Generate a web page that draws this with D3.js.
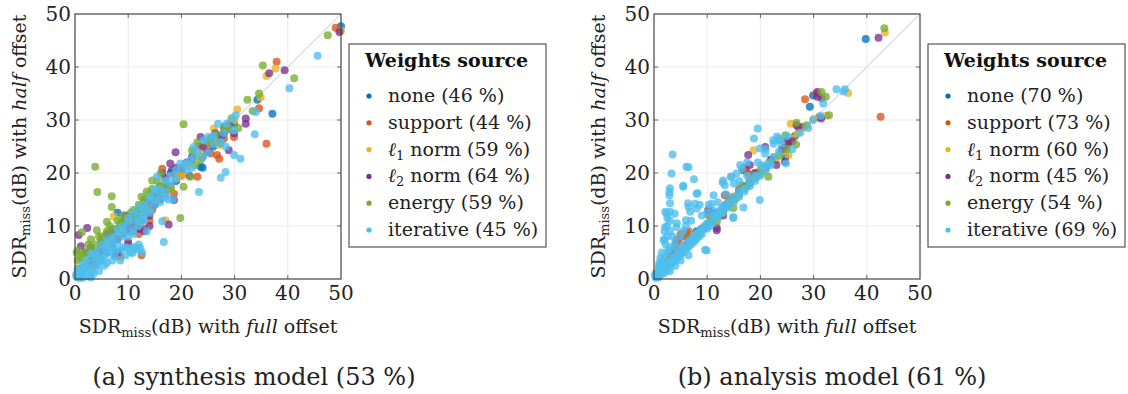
<!DOCTYPE html>
<html>
<head>
<meta charset="utf-8">
<script src="https://cdn.jsdelivr.net/npm/d3@7"></script>
<style>
  body { margin: 0; background: #fff; }
</style>
</head>
<body>
<svg width="1128" height="394"></svg>
<script>
// series names and colours
var seriesNames = ['none', 'support', 'ℓ1 norm', 'ℓ2 norm', 'energy', 'iterative'];
var seriesColors = ['#0072BD', '#D95319', '#EDB120', '#7E2F8E', '#77AC30', '#4DBEEE'];
var ticks = [0, 10, 20, 30, 40, 50];

// (a) synthesis model: [full offset, half offset] in dB
var synNone = [[50,47.7],[34.3,33.8],[37.1,31.2],[29.9,29.3],[23.6,21.2],[18.2,20.5],[8,12.5],[27,26.5],[24,21],[15.5,16],[13,13.5],[10.5,11],[6,5],[4.5,4.8],[3,3.2],[2,2.5],[1.2,1],[0.5,0.6],[7.5,4.4],[12,12.3],[16,15],[20,20.5],[9,8.7],[11,10],[7,7.5],[9.5,10.5],[14,14.5],[17,17.5],[19,18.5],[21,22],[26,25],[28,28.7],[5.5,6],[12.5,11]];
var synSupport = [[49,47.4],[37.9,41],[34.6,32.2],[36,25.5],[29.9,26.8],[26.7,23.4],[27.1,22.7],[23.3,25],[25.5,23.7],[23,19.3],[16.4,20.8],[18.6,16.1],[8.5,4.2],[8,5],[5,6],[3,4],[2,2.5],[1,1.5],[12,8.5],[14,13.5],[10.5,10],[6.5,7.5],[15,14.5],[19,19.5],[22,22.5],[28,26.5],[4,3.5],[13,12.5],[17.5,17],[12.5,4.5],[6,5.5],[7,6.5],[9,8.5],[10,9.5],[11,10.5],[13,14],[14.5,13],[16,15.5],[17,16],[18,17.5],[20,19.5],[21,21.5],[24,23],[25,25.5],[26,25.8],[3.5,2.5],[13,9.5],[14,11],[10,6.5],[11,9]];
var synL1 = [[50,46.8],[37.7,39.7],[36,38.3],[34.9,34.3],[30.5,32],[29.4,30.4],[26.1,28.4],[27.1,25.3],[22.2,23.7],[17,11.1],[7.3,11.8],[14.5,15.5],[12,13],[9,9.5],[6,6.8],[4,4.5],[2.5,3],[1,1.2],[16,16.5],[19,20.5],[11,12],[24,24.5],[5,7.5],[20,19.5],[5,5.5],[7,8.5],[8,8],[10,11],[13,14.5],[15,15],[16,17.5],[18,17],[19,19],[21,21.5],[23,23.5],[25,26],[26,26.5],[28,27.8],[3,4],[12,10.5],[14,12.5],[29,29.5],[30,30]];
var synL2 = [[49.7,46.6],[39.4,39.4],[36.5,38.8],[32.1,30.3],[32.1,29.3],[29.9,27.5],[28.9,24.3],[26.4,27.5],[18.9,23.9],[23.6,26.8],[24.9,24],[17.6,10.3],[18.6,14.9],[17.9,21.8],[16.4,19.9],[2.3,9.6],[1.1,6.2],[0.7,8.3],[13,13.5],[10,9],[9,10.5],[7,6],[5,5.5],[3,3.5],[1.5,2],[14,12],[11,11.5],[8,7.5],[12,9.5],[15,16],[20,21],[21.5,19.5],[6,8.5],[4,5],[5,7],[7,9],[8,9.5],[9.5,12],[10.5,10.5],[12,13],[13.5,14.5],[15,14],[16,17],[17,19],[3,6],[2,5],[14,10],[13,9],[10,7],[8,5],[18,20],[19,21],[22,23],[24,25],[25.5,26.5],[27.5,27],[28,27.5],[29,29]];
var synEnergy = [[47.5,46],[35.3,40.3],[41.2,37.9],[34.6,35],[32.4,33.8],[33.4,31.7],[30.7,28.5],[28.6,28.1],[28,28.5],[27.4,25.6],[20.4,29.2],[23,25.8],[24.9,25.9],[22,24.3],[23.6,22.4],[21.7,19.3],[20.4,17.4],[19.8,11.5],[16.1,19.9],[14.5,18.6],[3.8,21.2],[4.2,16.4],[6.9,15.6],[6.9,13.6],[1.3,8.8],[0.6,5.4],[6,10.8],[4.1,9.2],[2.5,6.5],[1.5,4.5],[0.5,3.5],[0.3,5],[3,7.5],[5,8],[8,9.5],[9,11],[10.5,12.5],[12,14],[13,15],[14.5,17],[11,11.5],[2,3],[1,1.5],[7,7.5],[16,17.5],[18,17],[3,6],[4,6.5],[5,7],[6,9],[7,9.5],[8,11],[9,12],[10,11],[11,13],[12,12.5],[13,13.5],[14,16],[15,15],[16,16.5],[17,18],[1,4],[2,5],[0.5,2],[3.5,5],[4.5,8],[6.5,10],[8.5,10.5],[12.5,15.5],[13.5,16.5],[15.5,18.5],[25.5,26.2],[26.5,27.3],[29,28.5],[22.5,21.5]];
var synIterative = [[45.6,42.1],[40.3,36],[34,31.5],[33.8,27.3],[30.2,30.9],[29.9,28],[31.1,22.7],[29.9,23.4],[26.9,29.3],[27.4,25.9],[28.3,25],[28.3,20.2],[27.4,19.1],[22.3,24.9],[24.2,26.2],[22.3,23],[21.7,22.4],[19.8,21.8],[20.8,21.8],[23.3,16.4],[16.7,7],[16.4,10.9],[18.4,15],[15.4,19.3],[10.8,4.9],[11.5,5.5],[12.3,5.8],[12.6,5],[11,6],[9.5,4.5],[8.5,3.5],[10,5.8],[9,6],[7.5,5.5],[6,4.8],[5,3.5],[4,2.5],[3.5,3],[2.5,2],[2,1.5],[1.5,1],[1,0.5],[0.5,0.3],[0.2,0.8],[1,2],[2,2.8],[3,3.8],[4,4.5],[5,5.5],[6,6.5],[7,7],[8,8.5],[9,9],[10,10.5],[11,11],[12,12],[13,13],[14,14.5],[15,15],[16,15.5],[17,16.5],[18,18],[19,19],[6,3],[7,3.5],[5.5,2.5],[3,1.5],[0.5,1.5],[1.5,0.3],[2.5,0.5],[3.5,1],[4.5,1.5],[13,11],[12,10],[14,13],[15,16.5],[17.5,15],[3,0.3],[1,0.2],[4,5],[5,6.5],[6,7.5],[7,8],[8,9.5],[9,10],[10,11.5],[11,12.5],[12,13.5],[13,14],[14,15.5],[15,17],[16,17],[17,18.5],[18,19.5],[19,20.5],[20,21],[5,4],[6,5.5],[7,6],[8,7],[9,8],[10,9],[11,9.5],[12,11],[13,12],[14,12.5],[15,14],[16,14.5],[17,15.5],[2,3.5],[3,4.8],[1.5,2.5],[0.8,1.2],[0.3,0.4],[4.5,3],[5.5,4],[6.5,5.5],[7.5,4.5],[8.5,5.5],[9.5,6],[10.5,5],[11.5,6],[12,6.5],[13.5,9],[10,8],[11,8.5],[21,20.5],[22,21],[25,26.8],[26,27],[23,24],[24,23],[25,23.8],[26,25.5],[28,27.5],[28.5,29.3],[29.5,30.2]];

// (b) analysis model
var anaNone = [[39.8,45.3],[29.9,34.6],[29.3,32.5],[16.8,20.5],[17.3,20.5],[11,12.5],[8,9],[5,5.5],[3,3],[1.5,1.8],[0.5,0.5],[22,22],[25,25],[13.5,14],[24.7,23],[7,7.2],[9.5,9.6],[12,12.2],[15,15.2],[18,18],[20,20.3],[10,10.2],[4,4.1],[2,2.1],[26.5,27],[28,28.7]];
var anaSupport = [[42.6,30.6],[28.4,33.9],[25.3,25.6],[17.7,19.9],[16.8,20.9],[17,21],[13.3,15.8],[10.2,12.1],[5.5,8.3],[4.3,7.4],[5,7.9],[6,8.8],[3.5,5],[2.5,3.5],[1.5,2],[0.5,0.8],[7,7.5],[9,9.5],[12,12],[13.6,15.8],[20,20.5],[22,22.5],[31,30.5],[30.5,35],[24.5,24.8],[4,6.5],[4.5,7],[5,8.5],[6,8],[6.5,9],[3,4.5],[4,5.5],[2,2.8],[8,8.3],[11,11.3],[14,14.5],[16,17],[13,13],[15,15.5],[18,18.5],[19,19.5],[3.5,4.2]];
var anaL1 = [[43.4,46.5],[36.5,35.1],[32.4,30.8],[25.7,29.3],[18.7,24.3],[25.3,23.4],[20,20.5],[15,15.5],[10,10],[6,6],[3,3.2],[1,1],[13,13.5],[22.5,23],[27,27.5],[8,8.2],[17,17.2],[5,5.2],[7,7.2],[9,9.1],[11,11.2],[12,11.5],[14,14],[16,16],[18,18.5],[19,20],[21,21],[23,22.5],[24,24],[26,26.5],[28,28.5],[30,30.2]];
var anaL2 = [[42.2,45.5],[30.7,35.3],[30.7,34.4],[31.5,34.1],[31.4,30.3],[26.8,29],[27.2,28.7],[17.7,23.4],[18,21.5],[20.9,24.9],[24.6,22.1],[11.8,9.2],[11.8,9.6],[18,18.4],[10.2,13],[8,8],[6,6.5],[4,4.2],[2,2.2],[14,14],[22,22.5],[23,21.5],[25,26],[9,9.5],[10,10],[12,12.5],[13,12],[15,15],[16,16.5],[17,17.5],[19,20],[21,21],[24,24.5],[26,26],[7,7.5],[5,5.3],[3,3.2]];
var anaEnergy = [[43.3,47.3],[31.5,35.3],[32.3,34.4],[32.9,30.9],[28.7,29],[26.8,29.5],[26.7,25.4],[23.5,26.2],[24.7,27.1],[21.5,19.3],[16.5,17.7],[6.8,7.7],[8.6,8.7],[11.8,10.8],[14.9,13.4],[17.4,17.4],[19.3,19.3],[5,5],[3.5,3.5],[2,2],[0.8,0.8],[10,10],[12.5,12.3],[16,16],[20.5,20.3],[22,22],[23.5,23.3],[25,24.5],[6,6],[7,7.2],[8,8],[9,9.3],[10.5,10.8],[11,11],[12,12],[13,12.8],[13.5,13.6],[14,14.2],[15,15],[15.5,15.3],[17,17],[18,18.3],[19,19],[20,20],[21,21.2],[4,4],[4.5,4.4],[3,3],[5.5,5.7],[7.5,7.3]];
var anaIterative = [[35.9,35.8],[35.6,35.4],[31.8,33.1],[29.9,30],[31.3,30.8],[27.5,27.6],[23.1,26.9],[22.4,26.2],[19.5,28.4],[19.9,24.6],[20.9,23.7],[24.8,21.8],[20.2,21.5],[19.9,14.9],[16.5,20.8],[15.5,19.9],[16.8,13.5],[14.9,11.7],[3.5,23.5],[6.5,21.1],[3.3,19.9],[5.5,17.6],[3,17.1],[2.9,16.4],[2.9,15.8],[7.5,18.8],[8.2,16.2],[6.4,14.3],[6.5,13.6],[3,14.3],[2.1,12.7],[3,12.7],[8.6,14],[10.3,14],[11.2,15.8],[12.9,18.2],[14.4,19.3],[16.2,21.5],[14.9,11.5],[6,11.1],[4.3,10.5],[9.6,5.5],[2.1,9.8],[1.8,7.3],[4.2,9.8],[6.8,12.7],[8,13.3],[7.7,14.2],[11.2,12.9],[13.3,17.7],[13,18.6],[14.6,19.3],[2,9],[2.5,8],[2.2,6.5],[2.8,5.5],[1.5,5],[1.2,4],[0.5,0.3],[0.3,1],[1,1.5],[1.5,1],[2,2.5],[2.5,1.8],[3,3.5],[3.5,3],[4,4.5],[4.5,4],[5,5.5],[5.5,5],[6,6.5],[6.5,6],[7,7.5],[7.5,7],[8,8.5],[8.5,8],[9,9.5],[10,10.5],[10.5,10],[11,11.5],[12,12.5],[13,13.5],[14,14.5],[15,15.5],[16,16.5],[17,17],[18,18.5],[19,19.5],[20.5,21],[21.5,22],[22.5,23],[23.5,24],[3,1.5],[4,2.5],[5,3.5],[6.5,4.5],[1,3],[0.8,2],[17.5,22],[19.5,22],[18.8,26.5],[24,25.5],[26,24.5],[29,28.5],[34.3,35.8],[3.9,12.3],[2.4,12.3],[6.1,21.2],[5.5,17.4],[8,16.1],[9.9,5.4],[10.8,14.2],[5,8],[4,7],[0.5,1],[1,0.5],[1.5,2.5],[2,1.2],[2.5,3],[3,2.5],[3.5,4],[4,3.5],[4.5,5],[5,4.5],[5.5,6],[6,5.5],[6.5,7],[7,6.5],[7.5,8],[8,7.5],[8.5,9],[9,8.5],[9.5,10],[10,9.5],[11,10.5],[11.5,12],[12,11.5],[12.5,13],[13,12.5],[13.5,14],[14,13.5],[15,14.5],[16,15.5],[17,16.5],[18,17.5],[19,18.5],[20,19.5],[21,20.5],[22,21.5],[2,4],[2.5,5],[3,6],[2,7.5],[2.5,10],[3,11],[2.5,11.5],[3.5,8],[3,9],[4,6],[1.5,3.5],[1,2.5],[0.3,0.3],[0.8,0.3],[0.2,0.7],[1.8,1.5],[6,10],[7,11],[5.5,9],[9,12],[10,12.5],[12,14.5],[13.5,16],[15,18],[16,18.5],[17.5,19.5],[21,24.5],[22.5,25.5],[23.5,26.5],[25,27]];

var synShares = [46, 44, 59, 64, 59, 45];
var anaShares = [70, 73, 60, 45, 54, 69];

var svg = d3.select('svg').style('font-family', '"DejaVu Serif"');
var plotW = 266, plotH = 265;

function drawPanel(left, series, shares, caption, captionX) {
  var x = d3.scaleLinear().domain([0, 50]).range([0, plotW]);
  var y = d3.scaleLinear().domain([0, 50]).range([plotH, 0]);

  var g = svg.append('g').attr('transform', `translate(${left},14)`);

  // grid
  g.selectAll('.gx').data(ticks.slice(1, -1)).enter().append('line')
    .attr('x1', d => x(d)).attr('x2', d => x(d)).attr('y1', 0).attr('y2', plotH)
    .attr('stroke', '#ebebeb');
  g.selectAll('.gy').data(ticks.slice(1, -1)).enter().append('line')
    .attr('y1', d => y(d)).attr('y2', d => y(d)).attr('x1', 0).attr('x2', plotW)
    .attr('stroke', '#ebebeb');

  // tick marks on all four sides, pointing inward
  var tickLen = 4;
  ticks.slice(1, -1).forEach(t => {
    g.append('line').attr('x1', x(t)).attr('x2', x(t)).attr('y1', plotH).attr('y2', plotH - tickLen).attr('stroke', '#666');
    g.append('line').attr('x1', x(t)).attr('x2', x(t)).attr('y1', 0).attr('y2', tickLen).attr('stroke', '#666');
    g.append('line').attr('y1', y(t)).attr('y2', y(t)).attr('x1', 0).attr('x2', tickLen).attr('stroke', '#666');
    g.append('line').attr('y1', y(t)).attr('y2', y(t)).attr('x1', plotW).attr('x2', plotW - tickLen).attr('stroke', '#666');
  });

  // diagonal y = x
  g.append('line')
    .attr('x1', x(0)).attr('y1', y(0)).attr('x2', x(50)).attr('y2', y(50))
    .attr('stroke', '#dcdcdc').attr('stroke-width', 1.2);

  // points
  series.forEach((pts, i) => {
    g.append('g').selectAll('circle').data(pts).enter().append('circle')
      .attr('cx', d => x(d[0]))
      .attr('cy', d => y(d[1]))
      .attr('r', 4)
      .attr('fill', seriesColors[i])
      .attr('fill-opacity', 0.78);
  });

  // frame
  g.append('rect').attr('width', plotW).attr('height', plotH)
    .attr('fill', 'none').attr('stroke', '#444').attr('stroke-width', 1.2);

  // tick labels
  g.selectAll('.xt').data(ticks).enter().append('text')
    .attr('x', d => x(d)).attr('y', plotH + 21)
    .attr('text-anchor', 'middle').attr('font-size', 20).attr('fill', '#222')
    .text(d => d);
  g.selectAll('.yt').data(ticks).enter().append('text')
    .attr('x', -4).attr('y', d => y(d)).attr('dy', '0.35em')
    .attr('text-anchor', 'end').attr('font-size', 20).attr('fill', '#222')
    .text(d => d);

  // axis labels
  var xl = g.append('text')
    .attr('x', plotW / 2).attr('y', plotH + 54)
    .attr('text-anchor', 'middle').attr('font-size', 19).attr('fill', '#222');
  xl.append('tspan').text('SDR');
  xl.append('tspan').attr('font-size', 13).attr('dy', 4).text('miss');
  xl.append('tspan').attr('dy', -4).text('(dB) with ');
  xl.append('tspan').attr('font-style', 'italic').text('full');
  xl.append('tspan').text(' offset');

  var yl = g.append('text')
    .attr('transform', `translate(-49,${plotH / 2}) rotate(-90)`)
    .attr('text-anchor', 'middle').attr('font-size', 19).attr('fill', '#222');
  yl.append('tspan').text('SDR');
  yl.append('tspan').attr('font-size', 13).attr('dy', 4).text('miss');
  yl.append('tspan').attr('dy', -4).text('(dB) with ');
  yl.append('tspan').attr('font-style', 'italic').text('half');
  yl.append('tspan').text(' offset');

  // legend
  var lg = g.append('g').attr('transform', `translate(${plotW + 8},30)`);
  lg.append('rect').attr('width', 197).attr('height', 203)
    .attr('fill', '#fff').attr('stroke', '#555').attr('stroke-width', 1.2);
  lg.append('text').attr('x', 16).attr('y', 23)
    .attr('font-size', 19).attr('font-weight', 'bold').attr('fill', '#111')
    .text('Weights source');
  seriesNames.forEach((name, i) => {
    var cy = 52 + i * 26.8;
    lg.append('circle').attr('cx', 20).attr('cy', cy).attr('r', 2.6)
      .attr('fill', seriesColors[i]);
    var t = lg.append('text').attr('x', 39).attr('y', cy + 6)
      .attr('font-size', 19).attr('fill', '#222');
    if (name.startsWith('ℓ')) {
      t.append('tspan').attr('font-style', 'italic').text('ℓ');
      t.append('tspan').attr('font-size', 13).attr('dy', 4).text(name[1]);
      t.append('tspan').attr('dy', -4).text(name.slice(2) + ' (' + shares[i] + ' %)');
    } else {
      t.text(name + ' (' + shares[i] + ' %)');
    }
  });

  // caption
  svg.append('text').attr('x', captionX).attr('y', 385)
    .attr('text-anchor', 'middle').attr('font-size', 24).attr('fill', '#222')
    .text(caption);
}

drawPanel(75, [synNone, synSupport, synL1, synL2, synEnergy, synIterative], synShares,
  '(a) synthesis model (53 %)', 254);
drawPanel(654, [anaNone, anaSupport, anaL1, anaL2, anaEnergy, anaIterative], anaShares,
  '(b) analysis model (61 %)', 832);
</script>
</body>
</html>
